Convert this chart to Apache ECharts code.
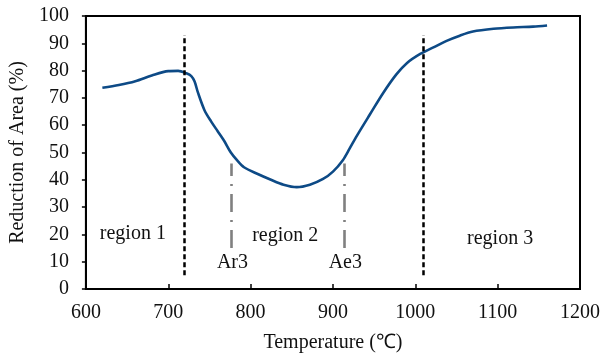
<!DOCTYPE html>
<html>
<head>
<meta charset="utf-8">
<script src="https://cdn.jsdelivr.net/npm/echarts@6/dist/echarts.min.js"></script>
<style>
  html, body { margin: 0; padding: 0; background: #fff; }
  #chart { width: 603px; height: 358px; }
</style>
</head>
<body>
<div id="chart"></div>
<script>
// Reduction of area vs. test temperature
const temperature = [620, 640, 660, 680, 700, 712, 722, 728, 732, 736, 744, 752, 760, 768, 776, 784, 792, 808, 824, 840, 856, 872, 888, 900, 912, 920, 929, 945, 961, 977, 990, 1006, 1022, 1038, 1054, 1070, 1095, 1119, 1143, 1160];
const reduction   = [73.7, 74.7, 76.1, 78.2, 79.8, 79.9, 79.0, 78.0, 76.0, 72.0, 65.5, 61.4, 57.8, 54.2, 50.0, 47.0, 44.6, 42.2, 40.1, 38.2, 37.3, 38.2, 40.3, 43.0, 47.2, 51.3, 56.1, 64.0, 71.8, 78.6, 82.8, 86.1, 88.5, 90.9, 92.8, 94.3, 95.3, 95.8, 96.1, 96.5];

// Region boundaries (black dashed) and transformation temperatures (grey dash-dot)
const regionBounds = [719, 1010];
const regionBoundRange = [5, 93];
const transTemps = [777, 914];
const transRange = [15, 46];

// Text annotations: [temperature, value, text]
const regionLabels = [[657, 20.4, 'region 1'], [842, 19.5, 'region 2'], [1103, 18.5, 'region 3']];
const transLabels = [[778, 9.5, 'Ar3'], [915, 9.5, 'Ae3']];

const serif = 'Liberation Serif, Times New Roman, serif';
const ink = '#111';
const chart = echarts.init(document.getElementById('chart'), null, { renderer: 'canvas' });

const vLines = (xs, range) => xs.map(x => [{ coord: [x, range[0]] }, { coord: [x, range[1]] }]);
const textPoints = arr => arr.map(d => ({ value: [d[0], d[1]], name: d[2] }));

chart.setOption({
  animation: false,
  grid: { left: 85, right: 23, top: 16, bottom: 67, show: true, borderColor: '#000', borderWidth: 2 },
  xAxis: {
    type: 'value', min: 600, max: 1200, interval: 100,
    name: 'Temperature (\u2103)', nameLocation: 'middle', nameGap: 44,
    nameTextStyle: { fontFamily: serif, fontSize: 20, color: ink },
    axisLine: { lineStyle: { color: '#000', width: 2 } },
    axisTick: { inside: true, length: 5, lineStyle: { color: '#000', width: 1.5 } },
    axisLabel: { fontFamily: serif, fontSize: 20, color: ink, margin: 14, formatter: v => String(v) },
    splitLine: { show: false }
  },
  yAxis: {
    type: 'value', min: 0, max: 100, interval: 10,
    name: 'Reduction of Area (%)', nameLocation: 'middle', nameGap: 57,
    nameTextStyle: { fontFamily: serif, fontSize: 20, color: ink },
    axisLine: { lineStyle: { color: '#000', width: 2 } },
    axisTick: { length: 4, lineStyle: { color: '#000', width: 1.5 } },
    axisLabel: { fontFamily: serif, fontSize: 20, color: ink, margin: 17 },
    splitLine: { show: false }
  },
  series: [
    {
      type: 'line',
      data: temperature.map((t, i) => [t, reduction[i]]),
      smooth: 0.3,
      showSymbol: false,
      lineStyle: { color: '#0d4a86', width: 2.6 },
      markLine: {
        silent: true, symbol: 'none', label: { show: false },
        lineStyle: { color: '#000', type: [5, 3], width: 2.5, opacity: 1 },
        data: vLines(regionBounds, regionBoundRange)
      }
    },
    {
      type: 'line',
      data: [],
      markLine: {
        silent: true, symbol: 'none', label: { show: false },
        lineStyle: { color: '#808080', type: [18, 8, 2, 8], width: 2.6, opacity: 1 },
        data: vLines(transTemps, transRange)
      }
    },
    {
      type: 'scatter',
      symbolSize: 0,
      itemStyle: { opacity: 1 },
      data: textPoints(regionLabels.concat(transLabels)),
      label: {
        show: true, position: 'inside', formatter: p => p.name, opacity: 1,
        fontFamily: serif, fontSize: 20, color: ink
      }
    }
  ]
});
</script>
</body>
</html>
